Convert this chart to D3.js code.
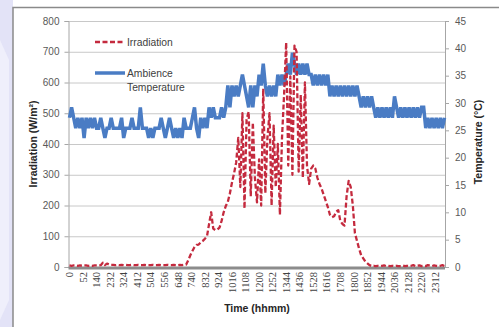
<!DOCTYPE html>
<html><head><meta charset="utf-8">
<script src="https://cdn.jsdelivr.net/npm/d3@7"></script>
<style>html,body{margin:0;padding:0;background:#fff;overflow:hidden}svg{display:block}</style>
</head><body>
<svg id="chart" width="499" height="327"></svg>
<script>
// ---- data ----
const timeLabels = ["0","52","140","232","324","412","504","556","648","740","832","924","1016","1108",
  "1200","1252","1344","1436","1528","1616","1708","1800","1852","1944","2036","2128","2220","2312"];
const samplesPerLabel = 6.5;   // samples (every 8 min) between two time labels
const irradiation = [
  5,4,5,5,4,5,4,5,5,4,5,4,5,5,5,6,
  14,6,11,8,7,7,6,7,6,7,6,7,6,6,7,6,6,7,6,6,7,6,6,6,7,6,6,7,6,6,6,7,6,6,7,6,6,7,6,7,
  8,22,38,52,65,72,73,80,85,92,100,140,178,125,120,122,128,150,178,198,212,240,275,305,
  340,420,260,500,190,480,505,230,470,290,210,350,200,580,240,420,500,200,460,260,
  400,170,420,560,730,330,620,300,720,700,310,560,290,600,330,270,320,330,320,290,
  270,255,235,215,195,170,162,165,180,185,150,140,135,230,280,260,200,110,85,60,
  38,28,18,12,6,3,4,3,4,3,4,5,3,4,3,4,3,4,3,3,
  5,3,4,3,4,6,3,4,5,3,4,3,6,4,3,5,4,3,4,6,3
];
const temperature = [
  27.3,29.2,27.3,25.4,27.3,25.4,27.3,23.6,27.3,25.4,27.3,25.4,27.3,25.4,25.4,27.3,25.4,23.6,25.4,25.4,
  27.3,25.4,25.4,25.4,25.4,27.3,23.6,25.4,25.4,25.4,27.3,25.4,25.4,25.4,29.2,25.4,25.4,25.4,23.6,25.4,
  23.6,25.4,25.4,25.4,27.3,25.4,23.6,25.4,27.3,25.4,23.6,25.4,23.6,25.4,23.6,27.3,25.4,25.4,25.4,27.3,
  29.2,25.4,23.6,27.3,25.4,27.3,25.4,29.2,27.3,29.2,27.3,27.3,27.3,29.2,27.3,29.2,33.2,29.2,33.2,31.2,
  33.2,31.2,33.2,35.2,33.2,31.2,29.2,33.2,29.2,33.2,31.2,35.2,33.2,37.2,33.2,31.2,33.2,31.2,33.2,31.2,
  35.2,33.2,35.2,33.2,35.2,37.2,35.2,39.2,37.2,35.2,37.2,35.2,37.2,35.2,37.2,35.2,35.2,33.2,35.2,33.2,
  35.2,33.2,35.2,33.2,35.2,31.2,33.2,31.2,33.2,31.2,33.2,31.2,33.2,31.2,33.2,31.2,33.2,31.2,33.2,31.2,
  29.2,31.2,29.2,31.2,29.2,31.2,29.2,27.3,29.2,27.3,29.2,27.3,29.2,27.3,29.2,27.3,31.2,29.2,27.3,29.2,
  27.3,29.2,27.3,29.2,27.3,29.2,27.3,29.2,27.3,29.2,29.2,25.4,27.3,25.4,27.3,25.4,27.3,25.4,27.3,25.4,27.3
];
const irrTicks = [0,100,200,300,400,500,600,700,800];
const tempTicks = [0,5,10,15,20,25,30,35,40,45];
const legendItems = [
  {lines:["Irradiation"], key:"irr"},
  {lines:["Ambience","Temperature"], key:"temp"}
];

// ---- layout ----
const svg = d3.select("#chart");
const W = 499, H = 327;
const plot = {left: 68.5, right: 445, top: 21, bottom: 267};
const colors = {irr:"#C42A3E", temp:"#4A7CC4"};

// background strip at left
svg.append("rect").attr("x",0).attr("y",0).attr("width",13).attr("height",H).attr("fill","#e3e3f7");
svg.append("path").attr("d","M0,40 L9,60 L9,300 L0,320 Z").attr("fill","#efeffb");
// chart frame
svg.append("path").attr("d","M13,330 V7.5 H500").attr("fill","none").attr("stroke","#8a8a8a").attr("stroke-width",1.5);

const n = irradiation.length;
const x = d3.scaleLinear().domain([0, n-1]).range([plot.left+1, plot.right-0.5]);
const yL = d3.scaleLinear().domain([0,800]).range([plot.bottom, plot.top]);
const yR = d3.scaleLinear().domain([0,45]).range([plot.bottom, plot.top]);

// gridlines
svg.append("g").selectAll("line").data(irrTicks.filter(d=>d>0)).join("line")
  .attr("x1",plot.left).attr("x2",plot.right)
  .attr("y1",d=>yL(d)+0.5).attr("y2",d=>yL(d)+0.5)
  .attr("stroke","#c8c8c8").attr("stroke-width",1);

// left axis
const gL = svg.append("g").attr("transform",`translate(${plot.left},0)`)
  .call(d3.axisLeft(yL).tickValues(irrTicks).tickSize(4).tickPadding(5));
gL.select(".domain").attr("stroke","#a6a6a6");
gL.selectAll(".tick line").attr("stroke","#a6a6a6");
gL.selectAll("text").attr("font-family","Liberation Sans, Arial, sans-serif").attr("font-size",10).attr("fill","#595959");

// right axis
const gR = svg.append("g").attr("transform",`translate(${plot.right},0)`)
  .call(d3.axisRight(yR).tickValues(tempTicks).tickSize(4).tickPadding(6));
gR.select(".domain").attr("stroke","#a6a6a6");
gR.selectAll(".tick line").attr("stroke","#a6a6a6");
gR.selectAll("text").attr("font-family","Liberation Sans, Arial, sans-serif").attr("font-size",10).attr("fill","#595959");

// x axis labels
const gX = svg.append("g");
gX.selectAll("text").data(timeLabels).join("text")
  .attr("transform",(d,i)=>`translate(${x(i*samplesPerLabel)},${plot.bottom+5}) rotate(-90)`)
  .attr("text-anchor","end").attr("dy","0.35em")
  .attr("font-family","Liberation Serif, Times New Roman, serif").attr("font-size",10.5).attr("fill","#404040")
  .text(d=>d);

// temperature line
svg.append("path").datum(temperature)
  .attr("d", d3.line().x((d,i)=>x(i)).y(d=>yR(d)))
  .attr("fill","none").attr("stroke",colors.temp).attr("stroke-width",3.5).attr("stroke-linejoin","miter");

// x axis line
svg.append("line").attr("x1",plot.left).attr("x2",plot.right).attr("y1",plot.bottom+1).attr("y2",plot.bottom+1)
  .attr("stroke","#8c8c8c").attr("stroke-width",3);

// irradiation line
svg.append("path").datum(irradiation)
  .attr("d", d3.line().x((d,i)=>x(i)).y(d=>yL(d)))
  .attr("fill","none").attr("stroke",colors.irr).attr("stroke-width",2.3)
  .attr("stroke-dasharray","5,2.5").attr("stroke-linejoin","round");

// legend
const lg = svg.append("g");
const legY = [42, 73];
legendItems.forEach((it,k)=>{
  const yy = legY[k];
  const ln = lg.append("line").attr("x1",95).attr("x2",125).attr("y1",yy).attr("y2",yy)
    .attr("stroke",colors[it.key]);
  if (it.key==="irr") ln.attr("stroke-width",2.3).attr("stroke-dasharray","5,2.5");
  else ln.attr("stroke-width",3.5);
  it.lines.forEach((t,j)=>{
    lg.append("text").attr("x",127).attr("y",yy+j*14.5).attr("dy","0.35em")
      .attr("font-family","Liberation Sans, Arial, sans-serif").attr("font-size",10.3).attr("fill","#404040")
      .text(t);
  });
});

// axis titles
svg.append("text").attr("transform","translate(33,144) rotate(-90)").attr("text-anchor","middle").attr("dy","0.35em")
  .attr("font-family","Liberation Sans, Arial, sans-serif").attr("font-weight","bold").attr("font-size",10.5).attr("fill","#262626")
  .text("Irradiation (W/m²)");
svg.append("text").attr("transform","translate(478,142) rotate(-90)").attr("text-anchor","middle").attr("dy","0.35em")
  .attr("font-family","Liberation Sans, Arial, sans-serif").attr("font-weight","bold").attr("font-size",10.5).attr("fill","#262626")
  .text("Temperature (°C)");
svg.append("text").attr("x",257).attr("y",312).attr("text-anchor","middle")
  .attr("font-family","Liberation Sans, Arial, sans-serif").attr("font-weight","bold").attr("font-size",10.5).attr("fill","#262626")
  .text("Time (hhmm)");
</script>
</body></html>
